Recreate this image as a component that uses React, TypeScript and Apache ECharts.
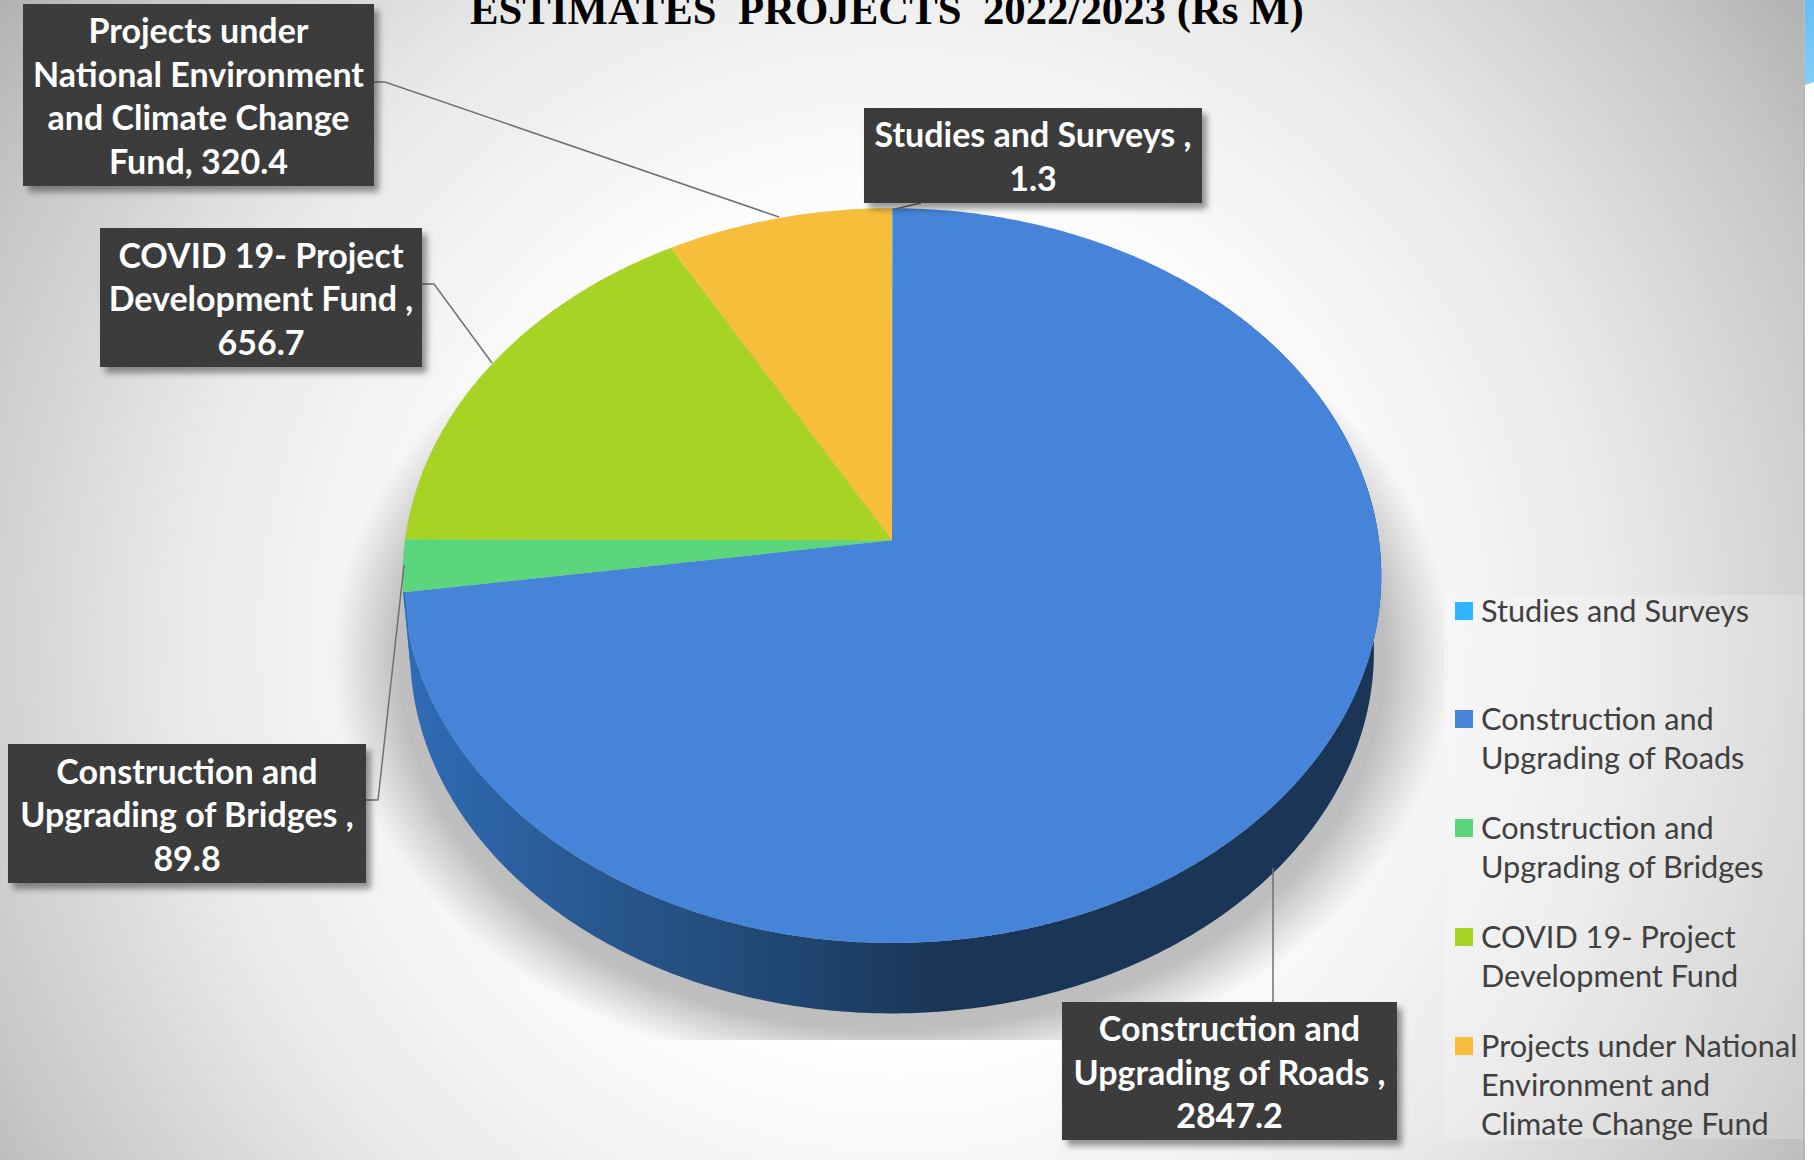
import React, { useEffect, useRef } from "react";
import * as echarts from "echarts";

const titleText = "ESTIMATES  PROJECTS  2022/2023 (Rs M)";
const categories = [
  "Studies and Surveys",
  "Construction and Upgrading of Roads",
  "Construction and Upgrading of Bridges",
  "COVID 19- Project Development Fund",
  "Projects under National Environment and Climate Change Fund",
];
const seriesValues = [1.3, 2847.2, 89.8, 656.7, 320.4];
const sliceColors = ["#2fb5ff", "#4584d8", "#5bd67c", "#a6d324", "#f6be3b"];
const labelTexts = [
  "Studies and Surveys ,\n1.3",
  "Construction and\nUpgrading of Roads ,\n2847.2",
  "Construction and\nUpgrading of Bridges ,\n89.8",
  "COVID 19- Project\nDevelopment Fund ,\n656.7",
  "Projects under\nNational Environment\nand Climate Change\nFund, 320.4",
];
const legendLines = [
  ["Studies and Surveys"],
  ["Construction and", "Upgrading of Roads"],
  ["Construction and", "Upgrading of Bridges"],
  ["COVID 19- Project", "Development Fund"],
  ["Projects under National", "Environment and", "Climate Change Fund"],
];

// layout (boxes: x, y, w, h)
const labelBoxes = [
  [864, 108, 338, 95],
  [1062, 1002, 335, 138],
  [8, 744, 358, 139],
  [100, 228, 322, 139],
  [23, 4, 351, 182],
];
const leaderLines = [
  [[921, 203], [895, 209]],
  [[1273, 1002], [1273, 868]],
  [[366, 800], [378, 800], [404, 565]],
  [[422, 284], [434, 284], [492, 363]],
  [[374, 82], [385, 82], [779, 217]],
];
const legendTops = [602, 710, 819, 928, 1037];

const APEX_X = 892;
const APEX_Y = 540.3;
const RX = 487;
const RY = 364;
const PERSP = 0.096;
const DEPTH = 76.5;
const DEPTH_SCALE = 0.985;
const WALL_FROM = 45;
const WALL_TO = 265;
const FONT = "Lato, 'Open Sans', sans-serif";

function rimPoint(deg: number, lower: boolean): number[] {
  const t = (deg * Math.PI) / 180;
  const u = Math.sin(t);
  const v = Math.cos(t);
  const k = 1 + PERSP * v;
  const s = lower ? DEPTH_SCALE : 1;
  return [APEX_X + (s * RX * u) / k, APEX_Y + (lower ? DEPTH : 0) - (s * RY * v) / k];
}

function arcPoints(a0: number, a1: number, lower: boolean): number[][] {
  const pts: number[][] = [];
  const n = Math.max(1, Math.ceil((a1 - a0) / 0.5));
  for (let i = 0; i <= n; i++) pts.push(rimPoint(a0 + ((a1 - a0) * i) / n, lower));
  return pts;
}

const total = seriesValues.reduce((a, b) => a + b, 0);
function sliceRange(index: number, value: number): number[] {
  let before = 0;
  for (let i = 0; i < index; i++) before += seriesValues[i];
  return [(before / total) * 360, ((before + value) / total) * 360];
}

const wallGradient = {
  type: "linear", x: 400, y: 0, x2: 1380, y2: 0, global: true,
  colorStops: [
    { offset: 0, color: "#306cb8" },
    { offset: 0.2, color: "#28588f" },
    { offset: 0.4, color: "#204672" },
    { offset: 0.55, color: "#1a3556" },
    { offset: 1, color: "#1b3556" },
  ],
};

function renderSlice(params: any, api: any) {
  const i = params.dataIndex;
  const [a0, a1] = sliceRange(i, api.value(0));
  const children: any[] = [];
  const w0 = Math.max(a0, WALL_FROM);
  const w1 = Math.min(a1, WALL_TO);
  if (w1 > w0) {
    children.push({
      type: "polygon",
      shape: { points: [...arcPoints(w0, w1, false), ...arcPoints(w0, w1, true).reverse()] },
      style: { fill: wallGradient, stroke: "none" },
    });
  }
  children.push({
    type: "polygon",
    shape: { points: [[APEX_X, APEX_Y], ...arcPoints(a0, a1, false)] },
    style: { fill: sliceColors[i], stroke: "none" },
  });
  return { type: "group", children };
}

function makeDots(): any {
  const c = document.createElement("canvas");
  c.width = 6;
  c.height = 6;
  const g = c.getContext("2d")!;
  g.fillStyle = "#3a3a3a";
  g.fillRect(0, 0, 6, 6);
  g.fillStyle = "#484848";
  g.fillRect(1, 1, 1, 1);
  g.fillRect(4, 4, 1, 1);
  return { image: c, repeat: "repeat" };
}

function makeRenderLabel(boxFill: any) {
  return function renderLabel(params: any) {
    const i = params.dataIndex;
    const [x, y, w, h] = labelBoxes[i];
    return {
      type: "group",
      children: [
        {
          type: "polyline",
          shape: { points: leaderLines[i] },
          style: { stroke: "#707070", lineWidth: 1.5, fill: "none" },
        },
        {
          type: "rect",
          shape: { x, y, width: w, height: h },
          style: {
            fill: boxFill,
            shadowColor: "rgba(0,0,0,0.4)",
            shadowBlur: 6,
            shadowOffsetX: 5,
            shadowOffsetY: 6,
          },
        },
        {
          type: "text",
          style: {
            text: labelTexts[i],
            x: x + w / 2,
            y: y + h / 2,
            align: "center",
            verticalAlign: "middle",
            fill: "#ffffff",
            font: `700 34px ${FONT}`,
            lineHeight: 43.5,
          },
        },
      ],
    };
  };
}

const bgGradient = {
  type: "radial", x: 900, y: 640, r: 1150, global: true,
  colorStops: [
    { offset: 0, color: "#ffffff" },
    { offset: 0.35, color: "#ffffff" },
    { offset: 0.63, color: "#e9e9e9" },
    { offset: 0.85, color: "#c8c8c8" },
    { offset: 1, color: "#aaaaaa" },
  ],
};

const shadowGradient = {
  type: "radial", x: 0.5, y: 0.5, r: 0.5,
  colorStops: [
    { offset: 0, color: "rgba(190,190,190,1)" },
    { offset: 0.88, color: "rgba(190,190,190,1)" },
    { offset: 1, color: "rgba(190,190,190,0)" },
  ],
};

function legendGraphics() {
  const out: any[] = [];
  categories.forEach((_, i) => {
    out.push({
      type: "rect",
      shape: { x: 1455, y: legendTops[i], width: 18, height: 18 },
      style: { fill: sliceColors[i] },
      z: 5,
    });
    out.push({
      type: "text",
      style: {
        text: legendLines[i].join("\n"),
        x: 1481,
        y: legendTops[i] - 11.5,
        align: "left",
        verticalAlign: "top",
        fill: "#404040",
        font: `400 30.7px ${FONT}`,
        lineHeight: 39,
      },
      z: 5,
    });
  });
  return out;
}

export default function App() {
  const ref = useRef<HTMLDivElement>(null);
  useEffect(() => {
    document.body.style.margin = "0";
    const chart = echarts.init(ref.current!, undefined, { renderer: "svg" });
    chart.setOption({
      animation: false,
      title: {
        text: titleText,
        left: 470,
        top: -12,
        padding: 0,
        textStyle: { fontFamily: "'Liberation Serif', serif", fontWeight: "bold", fontSize: 42.8, color: "#000000" },
      },
      graphic: [
        { type: "rect", shape: { x: 0, y: 0, width: 1805, height: 1160 }, style: { fill: bgGradient }, z: 0 },
        {
          type: "ellipse",
          shape: { cx: 892, cy: 660, rx: 560, ry: 420 },
          style: { fill: shadowGradient },
          z: 1,
        },
        { type: "rect", shape: { x: 0, y: 1040, width: 1805, height: 120 }, style: { fill: bgGradient }, z: 1 },
        { type: "rect", shape: { x: 1803, y: 0, width: 2, height: 1160 }, style: { fill: "#b9b9b9" }, z: 1 },
        {
          type: "polygon",
          shape: { points: [[1805, 0], [1814, 0], [1814, 82], [1805, 85]] },
          style: {
            fill: {
              type: "linear", x: 0, y: 0, x2: 0, y2: 1,
              colorStops: [{ offset: 0, color: "#66bef3" }, { offset: 1, color: "#84cdf9" }],
            },
          },
          z: 1,
        },
        { type: "rect", shape: { x: 1444, y: 595, width: 359, height: 544 }, style: { fill: "rgba(255,255,255,0.2)" }, z: 1 },
        ...legendGraphics(),
      ],
      series: [
        {
          type: "custom",
          name: "Estimates",
          coordinateSystem: "none",
          renderItem: renderSlice,
          data: categories.map((name, i) => ({ name, value: [seriesValues[i]] })),
          z: 2,
        },
        {
          type: "custom",
          name: "Labels",
          coordinateSystem: "none",
          renderItem: makeRenderLabel(makeDots()),
          data: categories.map((name, i) => ({ name, value: [seriesValues[i]] })),
          z: 3,
        },
      ],
    });
    return () => chart.dispose();
  }, []);
  return <div ref={ref} style={{ position: "absolute", left: 0, top: 0, width: 1814, height: 1161 }} />;
}
